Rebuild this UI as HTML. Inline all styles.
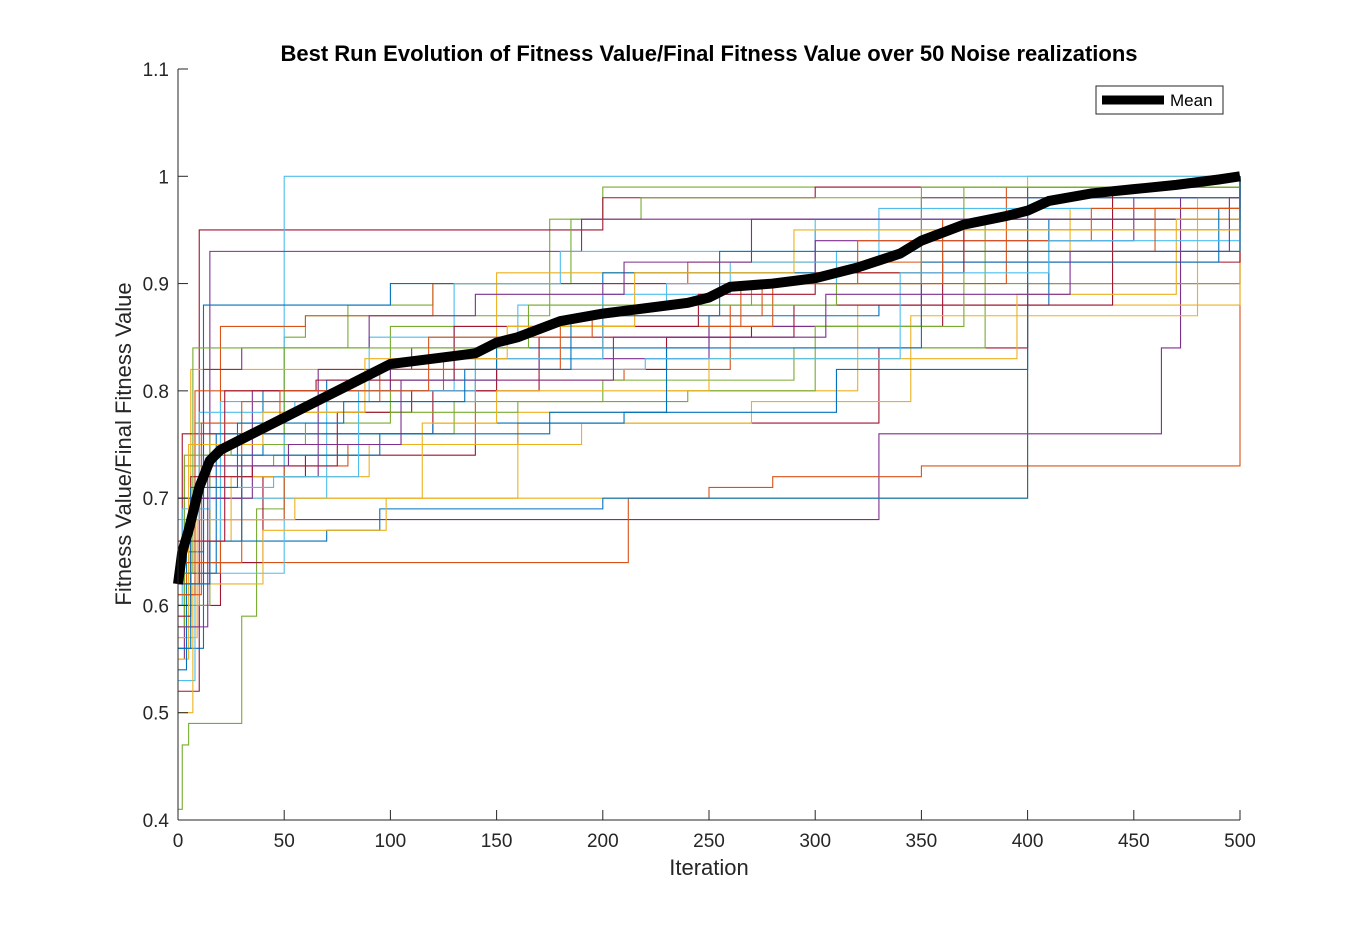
<!DOCTYPE html>
<html><head><meta charset="utf-8"><style>
body{margin:0;background:#fff;}
svg text{font-family:"Liberation Sans",sans-serif;}
</style></head><body>
<svg id="chart" width="1370" height="920" xmlns="http://www.w3.org/2000/svg">
<rect width="1370" height="920" fill="#fff"/>
<g id="runs"></g>
<g id="meanG"></g>
<g id="axes"></g>
<text x="709" y="61" text-anchor="middle" font-size="22" font-weight="bold">Best Run Evolution of Fitness Value/Final Fitness Value over 50 Noise realizations</text>
<text x="709" y="875" text-anchor="middle" font-size="22" fill="#262626">Iteration</text>
<text transform="translate(131,444) rotate(-90)" text-anchor="middle" font-size="22" fill="#262626">Fitness Value/Final Fitness Value</text>
<g>
<rect x="1096" y="86" width="127" height="28" fill="#fff" stroke="#262626" stroke-width="1"/>
<line x1="1102" y1="100" x2="1164" y2="100" stroke="#000" stroke-width="9"/>
<text x="1170" y="106" font-size="17">Mean</text>
</g>
</svg>
<script>
const xTicks=[0,50,100,150,200,250,300,350,400,450,500];
const yTicks=[0.4,0.5,0.6,0.7,0.8,0.9,1.0,1.1];
const yTickLabels=["0.4","0.5","0.6","0.7","0.8","0.9","1","1.1"];
const meanIter=[0,2,5,10,15,20,30,40,50,60,70,80,90,100,120,140,150,160,180,200,220,240,250,260,280,300,320,340,350,370,390,400,410,430,450,470,490,500];
const meanVal=[0.62,0.65,0.67,0.71,0.735,0.745,0.755,0.765,0.775,0.785,0.795,0.805,0.815,0.825,0.83,0.835,0.845,0.85,0.865,0.872,0.877,0.882,0.887,0.897,0.900,0.905,0.915,0.928,0.94,0.955,0.963,0.968,0.977,0.984,0.988,0.992,0.997,1.0];
// each run: alternating [iteration, value] step breakpoints
const runs=[
[0,0.41,2,0.47,5,0.49,30,0.59,37,0.69,50,0.85,60,0.87,175,0.96,200,0.99,500,1],
[0,0.55,3,0.68,70,0.68,330,0.76,460,0.76,463,0.84,472,0.98,500,1],
[0,0.6,5,0.7,399,0.7,400,1,500,1],
[0,0.58,10,0.64,200,0.64,212,0.7,250,0.71,280,0.72,350,0.73,500,1],
[0,0.6,4,0.66,70,0.67,95,0.69,200,0.7,260,0.7,400,0.99,500,1],
[0,0.62,10,0.95,180,0.95,200,0.98,300,0.99,500,1],
[0,0.63,50,1,500,1],
[0,0.6,8,0.77,40,0.77,50,0.84,80,0.88,120,0.9,185,0.96,218,0.98,500,1],
[0,0.62,15,0.93,140,0.93,190,0.96,500,1],
[0,0.58,6,0.82,80,0.82,150,0.91,350,0.93,420,0.97,500,1],
[0,0.64,20,0.86,60,0.87,120,0.9,240,0.92,360,0.96,500,1],
[0,0.56,12,0.88,100,0.9,200,0.91,300,0.95,500,1],
[0,0.52,10,0.6,20,0.64,40,0.72,60,0.74,140,0.75,160,0.77,330,0.84,400,0.9,500,1],
[0,0.53,8,0.7,70,0.8,130,0.9,180,0.93,300,0.96,500,1],
[0,0.6,15,0.76,50,0.78,100,0.86,200,0.88,270,0.9,500,1],
[0,0.64,5,0.7,30,0.72,66,0.82,110,0.84,200,0.9,300,0.94,450,0.98,500,1],
[0,0.5,7,0.62,40,0.67,70,0.67,98,0.7,160,0.78,230,0.8,320,0.88,500,1],
[0,0.57,4,0.63,20,0.68,50,0.73,80,0.75,140,0.81,210,0.82,260,0.88,350,0.93,500,1],
[0,0.65,12,0.74,40,0.8,70,0.81,150,0.84,250,0.87,330,0.88,410,0.96,500,1],
[0,0.62,2,0.76,60,0.76,120,0.8,170,0.85,270,0.86,360,0.92,500,1],
[0,0.66,20,0.79,90,0.85,160,0.88,230,0.9,310,0.93,500,1],
[0,0.58,3,0.73,45,0.74,85,0.76,130,0.79,200,0.81,290,0.84,380,0.96,500,1],
[0,0.7,35,0.8,100,0.82,170,0.83,250,0.86,350,0.98,500,1],
[0,0.55,5,0.66,25,0.72,90,0.75,190,0.77,270,0.79,345,0.87,480,0.98,500,1],
[0,0.61,8,0.8,75,0.8,125,0.83,200,0.86,280,0.9,390,0.99,500,1],
[0,0.63,18,0.76,120,0.77,210,0.78,310,0.82,400,0.98,500,1],
[0,0.59,6,0.72,35,0.73,75,0.78,110,0.8,150,0.82,230,0.85,290,0.88,440,0.99,500,1],
[0,0.68,10,0.78,55,0.79,140,0.83,200,0.89,260,0.92,330,0.97,500,1],
[0,0.6,3,0.74,25,0.75,60,0.77,100,0.78,160,0.79,240,0.8,300,0.86,370,0.99,500,1],
[0,0.62,12,0.82,30,0.84,90,0.87,140,0.89,210,0.92,270,0.96,500,1],
[0,0.57,9,0.68,55,0.7,115,0.77,150,0.8,250,0.83,395,0.89,470,0.96,500,1],
[0,0.64,30,0.79,95,0.82,180,0.86,265,0.9,320,0.94,430,0.97,500,1],
[0,0.54,4,0.62,15,0.66,30,0.74,95,0.76,175,0.78,230,0.84,350,0.92,490,0.97,500,1],
[0,0.66,22,0.8,65,0.81,130,0.86,245,0.89,300,0.91,370,0.95,500,1],
[0,0.6,2,0.69,15,0.71,45,0.72,85,0.8,140,0.82,220,0.83,340,0.91,410,0.94,500,1],
[0,0.63,7,0.84,70,0.84,165,0.88,310,0.9,350,0.99,500,1],
[0,0.58,14,0.73,52,0.75,105,0.81,205,0.85,305,0.89,420,0.93,495,0.98,500,1],
[0,0.65,5,0.75,40,0.78,88,0.83,155,0.86,215,0.91,290,0.95,500,1],
[0,0.61,11,0.77,48,0.8,118,0.85,195,0.87,275,0.9,360,0.93,460,0.97,500,1],
[0,0.56,6,0.71,28,0.77,78,0.79,135,0.82,185,0.87,255,0.93,500,1]
];
const colors=["#0072BD","#D95319","#EDB120","#7E2F8E","#77AC30","#4DBEEE","#A2142F"];
const X0=178,X1=1240,Y0=820,Y1=69;
const sx=v=>X0+(v-0)/(500-0)*(X1-X0);
const sy=v=>Y0-(v-0.4)/(1.1-0.4)*(Y0-Y1);
const NS="http://www.w3.org/2000/svg";
const runsG=document.getElementById('runs');
runs.forEach((r,i)=>{
  let d="";
  for(let k=0;k<r.length;k+=2){
    const x=sx(r[k]),y=sy(r[k+1]);
    if(k===0)d+="M"+x+","+y;else{d+="H"+x+"V"+y;}
  }
  const p=document.createElementNS(NS,'path');
  p.setAttribute('d',d);p.setAttribute('fill','none');
  p.setAttribute('stroke',colors[(runs.length-1-i)%7]);p.setAttribute('stroke-width','1.1');
  
  
  runsG.appendChild(p);
});
let md="";
meanIter.forEach((it,k)=>{md+=(k?"L":"M")+sx(it)+","+sy(meanVal[k]);});
const mp=document.createElementNS(NS,'path');
mp.setAttribute('d',md);mp.setAttribute('fill','none');mp.setAttribute('stroke','#000');mp.setAttribute('stroke-width','10');


document.getElementById('meanG').appendChild(mp);
const ax=document.getElementById('axes');
function ln(x1,y1,x2,y2){const l=document.createElementNS(NS,'line');l.setAttribute('x1',x1);l.setAttribute('y1',y1);l.setAttribute('x2',x2);l.setAttribute('y2',y2);l.setAttribute('stroke','#262626');l.setAttribute('stroke-width','1');ax.appendChild(l);return l;}
const xa=ln(X0,Y0,X1,Y0);


const ya=ln(X0,Y0,X0,Y1);


xTicks.forEach(t=>{
  ln(sx(t),Y0,sx(t),Y0-10);
  const tx=document.createElementNS(NS,'text');
  tx.setAttribute('x',sx(t));tx.setAttribute('y',Y0+27);tx.setAttribute('text-anchor','middle');tx.setAttribute('font-size','19');tx.setAttribute('fill','#262626');
  tx.textContent=t;
  
  
  ax.appendChild(tx);
});
yTicks.forEach((t,i)=>{
  ln(X0,sy(t),X0+10,sy(t));
  const tx=document.createElementNS(NS,'text');
  tx.setAttribute('x',X0-9);tx.setAttribute('y',sy(t)+7);tx.setAttribute('text-anchor','end');tx.setAttribute('font-size','19');tx.setAttribute('fill','#262626');
  tx.textContent=yTickLabels[i];
  
  
  ax.appendChild(tx);
});
</script>
</body></html>
